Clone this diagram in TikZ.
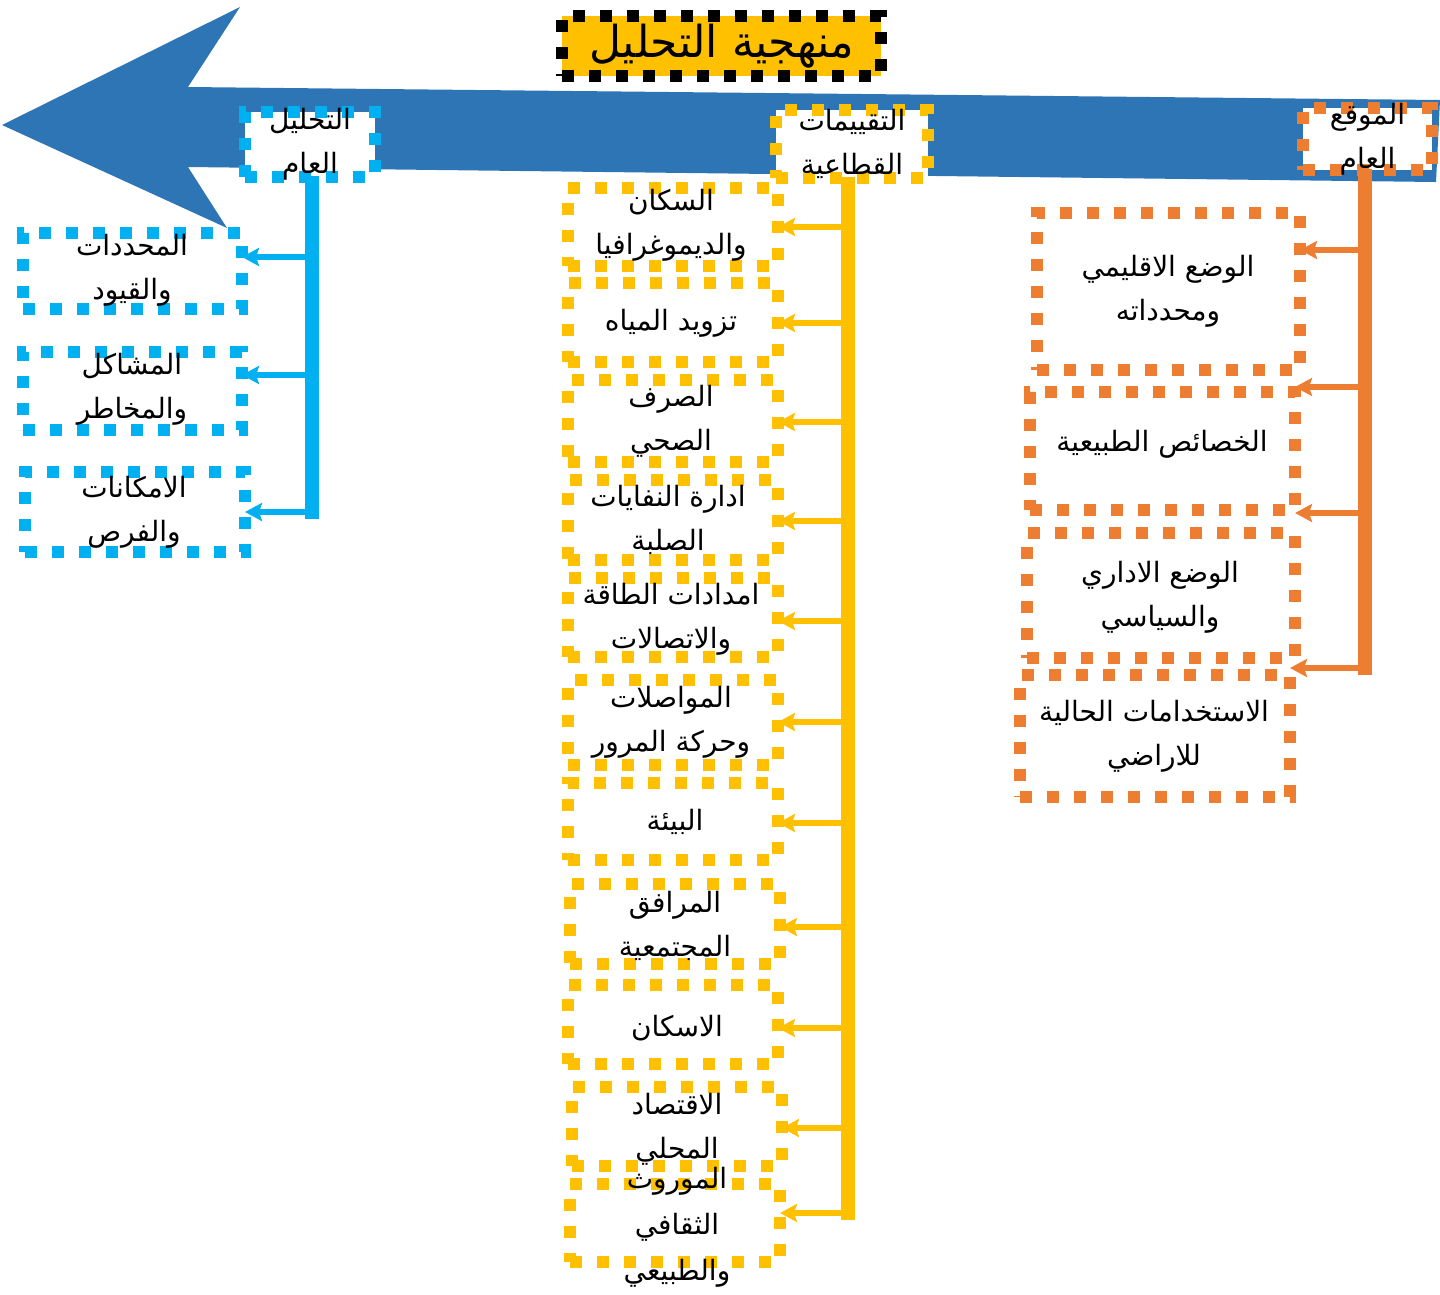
\documentclass[tikz,border=0pt]{standalone}
\usepackage{fontspec}
\newfontfamily\arabicfont[Script=Arabic]{DejaVu Sans}
\TeXXeTstate=1
\usetikzlibrary{arrows.meta}
\definecolor{arrowblue}{HTML}{2E75B6}
\definecolor{lblue}{HTML}{00B0F0}
\definecolor{ygold}{HTML}{FFC000}
\definecolor{oorange}{HTML}{ED7D31}
\newcommand\ar[1]{\beginR #1\endR}
\begin{document}
\begin{tikzpicture}[x=1pt,y=-1pt,
  dotbox/.style={rectangle, draw, line width=12pt, dash pattern=on 12pt off 15pt, inner sep=0pt},
  txt/.style={font=\arabicfont\fontsize{28}{44}\selectfont, align=center, inner sep=0pt, text=black},
  spine/.style={line width=14pt, line cap=rect},
  branch/.style={line width=6pt, -{Stealth[length=17pt,width=18pt,inset=3pt]}, shorten >=-6pt},
  ybox/.style={dotbox, draw=ygold, minimum width=210pt},
]
\useasboundingbox (0,0) rectangle (1440,1294);

% big arrow
\fill[arrowblue] (2,125) -- (240,7) -- (188,87) -- (1440,100) -- (1436,182) -- (188,167) -- (227,228) -- cycle;

% title
\node[dotbox, draw=black, fill=ygold, minimum width=319pt, minimum height=60pt] (title) at (721.5,46) {};
\node[txt, font=\arabicfont\fontsize{44}{48}\selectfont] (titletext) at (722,46) {\ar{منهجية التحليل}};

% headers
\node[dotbox, draw=lblue, fill=white, minimum width=130pt, minimum height=65pt] (bh) at (310,144.5) {};
\node[txt] at (bh) {\ar{التحليل}\\\ar{العام}};
\node[dotbox, draw=ygold, fill=white, minimum width=152pt, minimum height=68pt] (yh) at (852,144) {};
\node[txt] at (yh) {\ar{التقييمات}\\\ar{القطاعية}};
\node[dotbox, draw=oorange, fill=white, minimum width=129pt, minimum height=62pt] (oh) at (1367.5,139) {};
\node[txt] at (oh) {\ar{الموقع}\\\ar{العام}};

% blue column
\node[dotbox, draw=lblue, minimum width=219pt, minimum height=76pt] (b1) at (132.5,271) {};
\node[txt] at (132,270) {\ar{المحددات}\\\ar{والقيود}};
\node[dotbox, draw=lblue, minimum width=219pt, minimum height=78pt] (b2) at (132.5,391) {};
\node[txt] at (132,389) {\ar{المشاكل}\\\ar{والمخاطر}};
\node[dotbox, draw=lblue, minimum width=220pt, minimum height=80pt] (b3) at (135,512) {};
\node[txt] at (134,512) {\ar{الامكانات}\\\ar{والفرص}};

\coordinate (bs1) at (312,257);
\coordinate (bs2) at (312,375);
\coordinate (bs3) at (312,512);
\draw[spine, lblue] (bh.south -| bs1) -- (bs3);
\draw[branch, draw=lblue] (bs1) -- (bs1 -| b1.east);
\draw[branch, draw=lblue] (bs2) -- (bs2 -| b2.east);
\draw[branch, draw=lblue] (bs3) -- (bs3 -| b3.east);

% yellow column
\node[ybox, minimum height=78pt] (y1) at (673,227) {};
\node[txt] at (671,225) {\ar{السكان}\\\ar{والديموغرافيا}};
\node[ybox, minimum height=79pt] (y2) at (673,322.5) {};
\node[txt] at (671,323) {\ar{تزويد المياه}};
\node[ybox, minimum height=82pt] (y3) at (673,421) {};
\node[txt] at (671,421) {\ar{الصرف}\\\ar{الصحي}};
\node[ybox, minimum height=80pt] (y4) at (673,520) {};
\node[txt] at (668,520) {\ar{ادارة النفايات}\\\ar{الصلبة}};
\node[ybox, minimum height=79pt] (y5) at (673,617.5) {};
\node[txt] at (671,619) {\ar{امدادات الطاقة}\\\ar{والاتصالات}};
\node[ybox, minimum height=85pt] (y6) at (673,722.5) {};
\node[txt] at (671,722) {\ar{المواصلات}\\\ar{وحركة المرور}};
\node[ybox, minimum height=77pt] (y7) at (673,821.5) {};
\node[txt] at (675,822) {\ar{البيئة}};
\node[ybox, minimum height=80pt] (y8) at (675,924) {};
\node[txt] at (675,926) {\ar{المرافق}\\\ar{المجتمعية}};
\node[ybox, minimum height=79pt] (y9) at (673,1024.5) {};
\node[txt] at (677,1028) {\ar{الاسكان}};
\node[ybox, minimum height=79pt] (y10) at (677,1126.5) {};
\node[txt] at (677,1129) {\ar{الاقتصاد}\\\ar{المحلي}};
\node[ybox, minimum height=78pt] (y11) at (675,1223) {};
\node[txt, font=\arabicfont\fontsize{28}{46}\selectfont] at (677,1227) {\ar{الموروث}\\\ar{الثقافي}\\\ar{والطبيعي}};

\coordinate (ys1) at (848,227);
\coordinate (ys2) at (848,323);
\coordinate (ys3) at (848,422);
\coordinate (ys4) at (848,521);
\coordinate (ys5) at (848,621);
\coordinate (ys6) at (848,722);
\coordinate (ys7) at (848,823);
\coordinate (ys8) at (848,927);
\coordinate (ys9) at (848,1028);
\coordinate (ys10) at (848,1128);
\coordinate (ys11) at (848,1213);
\draw[spine, ygold] (yh.south -| ys1) -- (ys11);
\foreach \i in {1,...,11} {
  \draw[branch, draw=ygold, fill=ygold] (ys\i) -- (ys\i -| y\i.east);
}

% orange column
\node[dotbox, draw=oorange, minimum width=263pt, minimum height=157pt] (o1) at (1168.5,291.5) {};
\node[txt] at (1168,291) {\ar{الوضع الاقليمي}\\\ar{ومحدداته}};
\node[dotbox, draw=oorange, minimum width=265pt, minimum height=118pt] (o2) at (1162.5,451) {};
\node[txt] at (1162,444) {\ar{الخصائص الطبيعية}};
\node[dotbox, draw=oorange, minimum width=268pt, minimum height=125pt] (o3) at (1161,595.5) {};
\node[txt] at (1160,597) {\ar{الوضع الاداري}\\\ar{والسياسي}};
\node[dotbox, draw=oorange, minimum width=270pt, minimum height=122pt] (o4) at (1155,736) {};
\node[txt] at (1154,736) {\ar{الاستخدامات الحالية}\\\ar{للاراضي}};

\coordinate (os1) at (1365,250);
\coordinate (os2) at (1365,387);
\coordinate (os3) at (1365,513);
\coordinate (os4) at (1365,668);
\draw[spine, oorange] (oh.south -| os1) -- (os4);
\foreach \i in {1,...,4} {
  \draw[branch, draw=oorange, fill=oorange] (os\i) -- (os\i -| o\i.east);
}
\end{tikzpicture}
\end{document}
